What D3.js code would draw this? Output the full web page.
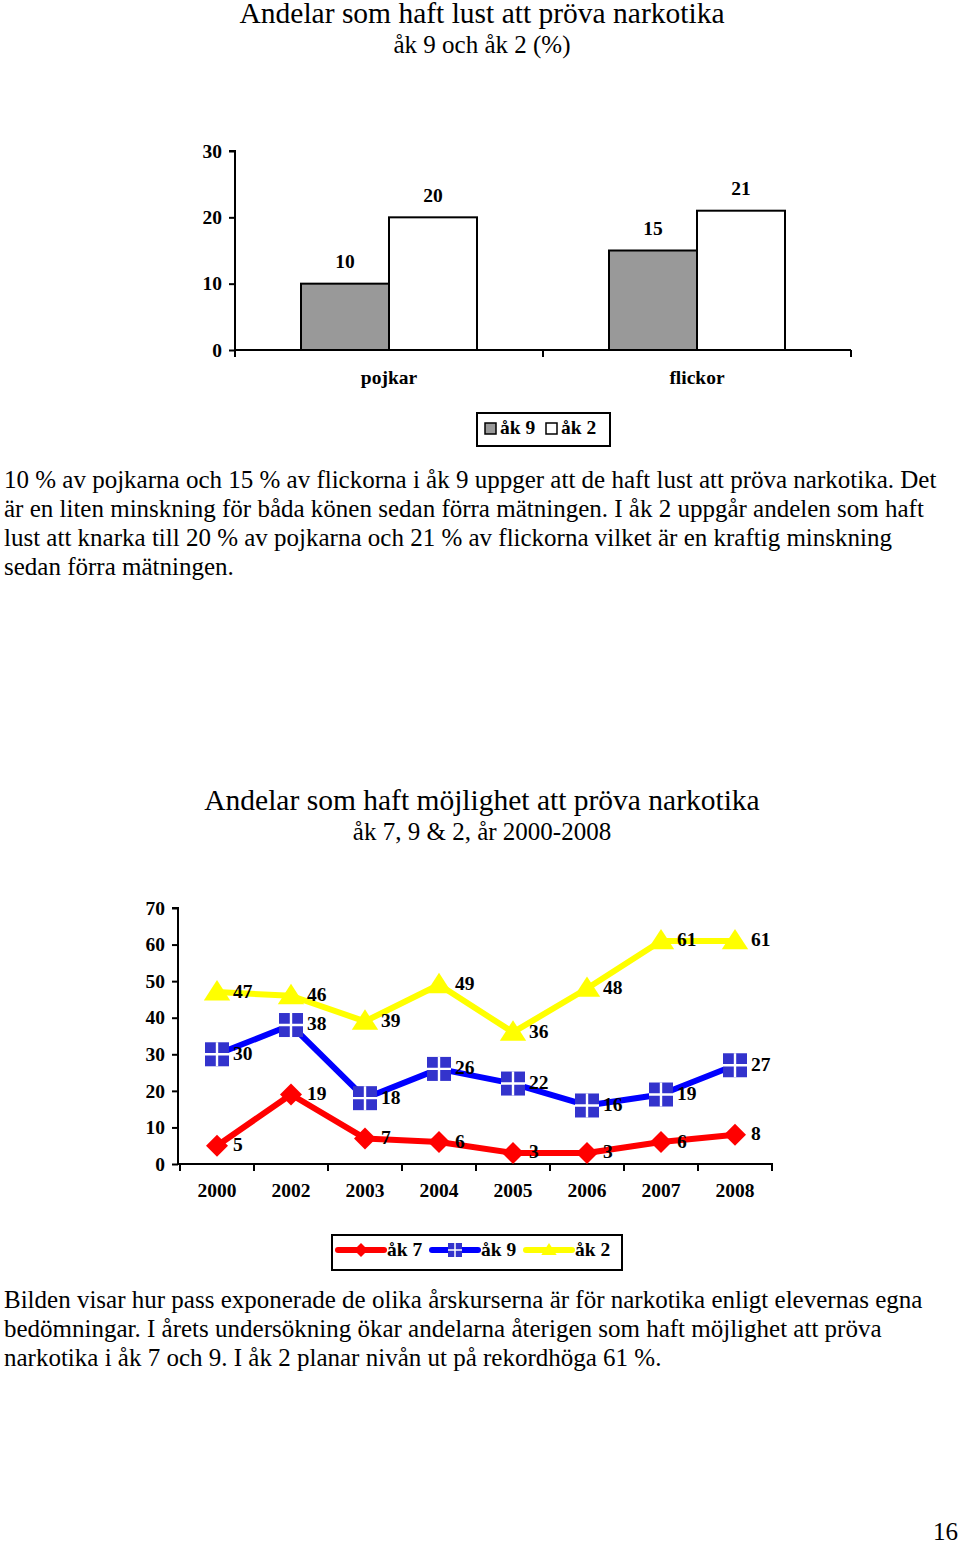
<!DOCTYPE html>
<html><head><meta charset="utf-8">
<script src="https://cdn.jsdelivr.net/npm/d3@7"></script>
<style>body{margin:0;background:#fff}svg{display:block}</style>
</head><body>
<svg id="c" width="960" height="1543"></svg>
<script>
// ---------- data ----------
const genders = ["pojkar", "flickor"];
const barSeries = ["åk 9", "åk 2"];
const ak9Lust = [10, 15];
const ak2Lust = [20, 21];
const barTicks = [0, 10, 20, 30];

const years = ["2000", "2002", "2003", "2004", "2005", "2006", "2007", "2008"];
const ak7 = [5, 19, 7, 6, 3, 3, 6, 8];
const ak9 = [30, 38, 18, 26, 22, 16, 19, 27];
const ak2 = [47, 46, 39, 49, 36, 48, 61, 61];
const lineTicks = [0, 10, 20, 30, 40, 50, 60, 70];
const lineSeries = ["åk 7", "åk 9", "åk 2"];

const para1 = [
  "10 % av pojkarna och 15 % av flickorna i åk 9 uppger att de haft lust att pröva narkotika. Det",
  "är en liten minskning för båda könen sedan förra mätningen. I åk 2 uppgår andelen som haft",
  "lust att knarka till 20 % av pojkarna och 21 % av flickorna vilket är en kraftig minskning",
  "sedan förra mätningen."
];
const para2 = [
  "Bilden visar hur pass exponerade de olika årskurserna är för narkotika enligt elevernas egna",
  "bedömningar. I årets undersökning ökar andelarna återigen som haft möjlighet att pröva",
  "narkotika i åk 7 och 9. I åk 2 planar nivån ut på rekordhöga 61 %."
];

const F = "'Liberation Serif','Times New Roman',serif";
const LS = 19.5; // label size
const svg = d3.select("#c");

function txt(g, x, y, s, size, opts = {}) {
  return g.append("text").attr("x", x).attr("y", y).text(s)
    .attr("font-family", F).attr("font-size", size)
    .attr("font-weight", opts.bold ? "bold" : "normal")
    .attr("text-anchor", opts.anchor || "start")
    .attr("dominant-baseline", opts.base || "middle")
    .attr("fill", "#000");
}

// ---------- chart 1 ----------
txt(svg, 482, 23, "Andelar som haft lust att pröva narkotika", 29.5, {anchor: "middle", base: "alphabetic"});
txt(svg, 482, 53, "åk 9 och åk 2 (%)", 25, {anchor: "middle", base: "alphabetic"});

const x1 = d3.scaleBand().domain(genders).range([235, 851]).padding(0);
const xs1 = d3.scaleBand().domain(barSeries).range([0, x1.bandwidth()]).paddingInner(0).paddingOuter(0.75);
const y1 = d3.scaleLinear().domain([0, 30]).range([350, 151]);
const g1 = svg.append("g");
const barColors = {"åk 9": "#999999", "åk 2": "#ffffff"};
const barData = [];
genders.forEach((gd, i) => {
  barData.push({g: gd, s: "åk 9", v: ak9Lust[i]});
  barData.push({g: gd, s: "åk 2", v: ak2Lust[i]});
});
g1.selectAll("rect.bar").data(barData).enter().append("rect")
  .attr("x", d => x1(d.g) + xs1(d.s))
  .attr("y", d => y1(d.v))
  .attr("width", xs1.bandwidth())
  .attr("height", d => y1(0) - y1(d.v))
  .attr("fill", d => barColors[d.s]).attr("stroke", "#000").attr("stroke-width", 2);
g1.selectAll("text.val").data(barData).enter().append("text")
  .attr("x", d => x1(d.g) + xs1(d.s) + xs1.bandwidth() / 2)
  .attr("y", d => y1(d.v) - 20)
  .attr("text-anchor", "middle").attr("dominant-baseline", "middle")
  .attr("font-family", F).attr("font-size", LS).attr("font-weight", "bold")
  .text(d => d.v);

// y axis
const ya1 = g1.append("g").attr("transform", "translate(235,0)")
  .call(d3.axisLeft(y1).tickValues(barTicks).tickSize(6).tickPadding(7));
ya1.select(".domain").attr("stroke-width", 2).attr("d", `M-6,${y1(30)}H0V${y1(0)}`);
ya1.selectAll("line").attr("stroke-width", 2);
ya1.selectAll("text").attr("font-family", F).attr("font-size", LS).attr("font-weight", "bold").attr("fill", "#000");
// x axis
g1.append("line").attr("x1", 235).attr("x2", 851).attr("y1", y1(0)).attr("y2", y1(0)).attr("stroke", "#000").attr("stroke-width", 2);
const b1 = genders.map(d => x1(d)).concat([x1.range()[1]]);
g1.selectAll("line.xt").data(b1).enter().append("line")
  .attr("x1", d => d).attr("x2", d => d).attr("y1", y1(0)).attr("y2", y1(0) + 7)
  .attr("stroke", "#000").attr("stroke-width", 2);
g1.selectAll("text.cat").data(genders).enter().append("text")
  .attr("x", d => x1(d) + x1.bandwidth() / 2).attr("y", 380)
  .attr("text-anchor", "middle").attr("dominant-baseline", "middle")
  .attr("font-family", F).attr("font-size", LS).attr("font-weight", "bold").text(d => d);

// legend 1
const l1 = svg.append("g");
l1.append("rect").attr("x", 477).attr("y", 413).attr("width", 133).attr("height", 33).attr("fill", "#fff").attr("stroke", "#000").attr("stroke-width", 2);
barSeries.forEach((s, i) => {
  const lx = 485 + i * 61;
  l1.append("rect").attr("x", lx).attr("y", 423).attr("width", 11).attr("height", 11).attr("fill", barColors[s]).attr("stroke", "#000").attr("stroke-width", 1.5);
  txt(l1, lx + 15, 430, s, LS, {bold: true});
});

// paragraph 1
para1.forEach((l, i) => txt(svg, 4, 488 + i * 29, l, 25, {base: "alphabetic"}));

// ---------- chart 2 ----------
txt(svg, 482, 810, "Andelar som haft möjlighet att pröva narkotika", 29.5, {anchor: "middle", base: "alphabetic"});
txt(svg, 482, 840, "åk 7, 9 & 2, år 2000-2008", 25, {anchor: "middle", base: "alphabetic"});

const x2 = d3.scaleBand().domain(years).range([180, 772]).padding(0);
const y2 = d3.scaleLinear().domain([0, 70]).range([1164, 908]);
const g2 = svg.append("g");

const ya2 = g2.append("g").attr("transform", "translate(178,0)")
  .call(d3.axisLeft(y2).tickValues(lineTicks).tickSize(6).tickPadding(7));
ya2.select(".domain").attr("stroke-width", 2).attr("d", `M-6,${y2(70)}H0V${y2(0)}`);
ya2.selectAll("line").attr("stroke-width", 2);
ya2.selectAll("text").attr("font-family", F).attr("font-size", LS).attr("font-weight", "bold").attr("fill", "#000");
g2.append("line").attr("x1", 178).attr("x2", 773).attr("y1", y2(0)).attr("y2", y2(0)).attr("stroke", "#000").attr("stroke-width", 2);
const b2 = years.map(d => x2(d)).concat([x2.range()[1]]);
g2.selectAll("line.xt").data(b2).enter().append("line")
  .attr("x1", d => d).attr("x2", d => d).attr("y1", y2(0)).attr("y2", y2(0) + 7)
  .attr("stroke", "#000").attr("stroke-width", 2);
g2.selectAll("text.yr").data(years).enter().append("text")
  .attr("x", d => x2(d) + x2.bandwidth() / 2).attr("y", 1193)
  .attr("text-anchor", "middle").attr("dominant-baseline", "middle")
  .attr("font-family", F).attr("font-size", LS).attr("font-weight", "bold").text(d => d);

const cx = d => x2(d) + x2.bandwidth() / 2;
const line = d3.line().x(d => cx(d.y)).y(d => y2(d.v));

function diamond(g, x, y, r, col) {
  g.append("path").attr("d", `M${x},${y - r}L${x + r},${y}L${x},${y + r}L${x - r},${y}Z`).attr("fill", col);
}
function square(g, x, y, r, col) {
  g.append("rect").attr("x", x - r).attr("y", y - r).attr("width", 2 * r).attr("height", 2 * r).attr("fill", col);
  g.append("path").attr("d", `M${x},${y - r}V${y + r}M${x - r},${y}H${x + r}`).attr("stroke", "#fff").attr("stroke-width", Math.max(1.5, r / 5));
}
function triangle(g, x, y, r, col) {
  g.append("path").attr("d", `M${x},${y - r}L${x + r * 1.1},${y + r * 0.7}L${x - r * 1.1},${y + r * 0.7}Z`).attr("fill", col);
}

const seriesDefs = [
  {name: "åk 2", vals: ak2, color: "#ffff00", mcol: "#ffff00", marker: triangle, r: 12},
  {name: "åk 9", vals: ak9, color: "#0000ff", mcol: "#3333cc", marker: square, r: 12},
  {name: "åk 7", vals: ak7, color: "#ff0000", mcol: "#ff0000", marker: diamond, r: 11}
];
seriesDefs.forEach(s => {
  const pts = years.map((y, i) => ({y, v: s.vals[i]}));
  g2.append("path").datum(pts).attr("d", line).attr("fill", "none")
    .attr("stroke", s.color).attr("stroke-width", 6).attr("stroke-linejoin", "round");
  pts.forEach(p => s.marker(g2, cx(p.y), y2(p.v), s.r, s.mcol));
});
seriesDefs.forEach(s => {
  years.forEach((y, i) => {
    txt(g2, cx(y) + 16, y2(s.vals[i]) + 1, s.vals[i], LS, {bold: true});
  });
});

// legend 2
const l2 = svg.append("g");
l2.append("rect").attr("x", 332).attr("y", 1235).attr("width", 290).attr("height", 35).attr("fill", "#fff").attr("stroke", "#000").attr("stroke-width", 2);
const legDefs = [seriesDefs[2], seriesDefs[1], seriesDefs[0]];
legDefs.forEach((s, i) => {
  const lx = 338 + i * 94;
  const ly = 1250;
  l2.append("line").attr("x1", lx).attr("x2", lx + 46).attr("y1", ly).attr("y2", ly)
    .attr("stroke", s.color).attr("stroke-width", 6).attr("stroke-linecap", "round");
  s.marker(l2, lx + 23, ly, 7, s.mcol);
  txt(l2, lx + 49, ly + 2, s.name, LS, {bold: true});
});

// paragraph 2
para2.forEach((l, i) => txt(svg, 4, 1308 + i * 29, l, 25, {base: "alphabetic"}));

// page number
txt(svg, 958, 1540, "16", 25, {anchor: "end", base: "alphabetic"});
</script>
</body></html>
